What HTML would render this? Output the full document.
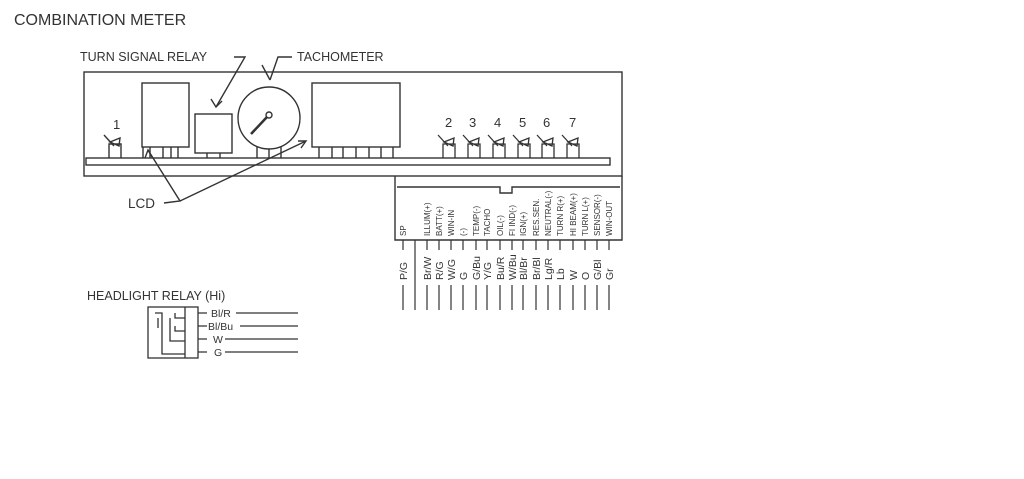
<!DOCTYPE html>
<html><head><meta charset="utf-8"><style>
html,body{margin:0;padding:0;background:#fff;}
svg{display:block;}
text{font-family:"Liberation Sans",sans-serif;fill:#333;}
</style></head><body>
<svg width="1024" height="479" viewBox="0 0 1024 479" xmlns="http://www.w3.org/2000/svg">
<g stroke="#333" stroke-width="1.4" fill="none">
<text x="14" y="25" font-size="16" stroke="none">COMBINATION METER</text>
<text x="80" y="61" font-size="12.5" stroke="none">TURN SIGNAL RELAY</text>
<text x="297" y="61" font-size="12.5" stroke="none">TACHOMETER</text>
<polyline points="234,57 245,57 216,107"/>
<polyline points="211,99 216,107 222,101"/>
<polyline points="292,57 278,57 270,80"/>
<polyline points="262,65 270,80"/>
<!-- outer box -->
<rect x="84" y="72" width="538" height="104"/>
<rect x="86" y="158" width="524" height="7"/>
<!-- LCD left -->
<rect x="142" y="83" width="47" height="64"/>
<path d="M143,147 V158 M150,147 V158 M163,147 V158 M171,147 V158 M178,147 V158"/>
<!-- relay -->
<rect x="195" y="114" width="37" height="39"/>
<path d="M207,153 V158 M220,153 V158"/>
<!-- tacho -->
<circle cx="269" cy="118" r="31"/>
<circle cx="269" cy="115" r="3"/>
<line x1="251" y1="134" x2="267" y2="117" stroke-width="2.5"/>
<path d="M257,147 V158 M269,149 V158 M281,147 V158"/>
<!-- right LCD -->
<rect x="312" y="83" width="88" height="64"/>
<path d="M319,147 V158 M332,147 V158 M343,147 V158 M356,147 V158 M369,147 V158 M381,147 V158 M393,147 V158"/>
<!-- bulb 1 -->
<path d="M109,158 V144 H121 V158 M104,135 L114,146 M110,142 L120,138 L119,146 Z"/>
<text x="113" y="129" font-size="13" stroke="none">1</text>
<!-- LCD label -->
<text x="128" y="208" font-size="13.5" stroke="none">LCD</text>
<polyline points="164,203 180,201 148,150"/>
<polyline points="180,201 306,141"/>
<polyline points="298,141 306,141 301,148"/>
<polyline points="145,158 148,150 152,157"/>
<!-- connector box -->
<path d="M395,176 V240 H622 V176"/>
<path d="M397,187 H500 V193 H512 V187 H620"/>
</g>
<g stroke="#333" stroke-width="1.3" fill="none">
<g id="b"></g>
</g>
<g stroke="#333" stroke-width="1.3" fill="none" font-size="13">
<path d="M443,158 V144 H455 V158 M438,135 L448,146 M444,142 L454,138 L453,146 Z"/>
<path d="M468,158 V144 H480 V158 M463,135 L473,146 M469,142 L479,138 L478,146 Z"/>
<path d="M493,158 V144 H505 V158 M488,135 L498,146 M494,142 L504,138 L503,146 Z"/>
<path d="M518,158 V144 H530 V158 M513,135 L523,146 M519,142 L529,138 L528,146 Z"/>
<path d="M542,158 V144 H554 V158 M537,135 L547,146 M543,142 L553,138 L552,146 Z"/>
<path d="M567,158 V144 H579 V158 M562,135 L572,146 M568,142 L578,138 L577,146 Z"/>
</g>
<g font-size="13" fill="#333">
<text x="445" y="127">2</text><text x="469" y="127">3</text><text x="494" y="127">4</text>
<text x="519" y="127">5</text><text x="543" y="127">6</text><text x="569" y="127">7</text>
</g>
<g stroke="#333" stroke-width="1.2">
<path d="M403,240V250 M415,240V250 M427,240V250 M439,240V250 M451,240V250 M463,240V250 M476,240V250 M487,240V250 M500,240V250 M512,240V250 M523,240V250 M536,240V250 M548,240V250 M560,240V250 M573,240V250 M585,240V250 M597,240V250 M609,240V250"/>
<path d="M403,285V310 M415,250V310 M427,285V310 M439,285V310 M451,285V310 M463,285V310 M476,285V310 M487,285V310 M500,285V310 M512,285V310 M523,285V310 M536,285V310 M548,285V310 M560,285V310 M573,285V310 M585,285V310 M597,285V310 M609,285V310"/>
</g>
<g font-size="8" fill="#333">
<text transform="translate(406,236) rotate(-90)">SP</text>
<text transform="translate(430,236) rotate(-90)">ILLUM(+)</text>
<text transform="translate(442,236) rotate(-90)">BATT(+)</text>
<text transform="translate(454,236) rotate(-90)">WIN-IN</text>
<text transform="translate(466,236) rotate(-90)">(-)</text>
<text transform="translate(479,236) rotate(-90)">TEMP(-)</text>
<text transform="translate(490,236) rotate(-90)">TACHO</text>
<text transform="translate(503,236) rotate(-90)">OIL(-)</text>
<text transform="translate(515,236) rotate(-90)">FI IND(-)</text>
<text transform="translate(526,236) rotate(-90)">IGN(+)</text>
<text transform="translate(539,236) rotate(-90)">RES.SEN.</text>
<text transform="translate(551,236) rotate(-90)">NEUTRAL(-)</text>
<text transform="translate(563,236) rotate(-90)">TURN R(+)</text>
<text transform="translate(576,236) rotate(-90)">HI BEAM(+)</text>
<text transform="translate(588,236) rotate(-90)">TURN L(+)</text>
<text transform="translate(600,236) rotate(-90)">SENSOR(-)</text>
<text transform="translate(612,236) rotate(-90)">WIN-OUT</text>
</g>
<g font-size="10.5" fill="#333">
<text transform="translate(407,280) rotate(-90)">P/G</text>
<text transform="translate(431,280) rotate(-90)">Br/W</text>
<text transform="translate(443,280) rotate(-90)">R/G</text>
<text transform="translate(455,280) rotate(-90)">W/G</text>
<text transform="translate(467,280) rotate(-90)">G</text>
<text transform="translate(480,280) rotate(-90)">G/Bu</text>
<text transform="translate(491,280) rotate(-90)">Y/G</text>
<text transform="translate(504,280) rotate(-90)">Bu/R</text>
<text transform="translate(516,280) rotate(-90)">W/Bu</text>
<text transform="translate(527,280) rotate(-90)">Bl/Br</text>
<text transform="translate(540,280) rotate(-90)">Br/Bl</text>
<text transform="translate(552,280) rotate(-90)">Lg/R</text>
<text transform="translate(564,280) rotate(-90)">Lb</text>
<text transform="translate(577,280) rotate(-90)">W</text>
<text transform="translate(589,280) rotate(-90)">O</text>
<text transform="translate(601,280) rotate(-90)">G/Bl</text>
<text transform="translate(613,280) rotate(-90)">Gr</text>
</g>
<!-- headlight relay -->
<text x="87" y="300" font-size="12.5">HEADLIGHT RELAY (Hi)</text>
<g stroke="#333" stroke-width="1.3" fill="none">
<rect x="148" y="307" width="50" height="51"/>
<line x1="185" y1="307" x2="185" y2="358"/>
<path d="M155,313 H162 V354 H185 M170,318 V341 H185 M158,318 V328 M175,313 V318 H185 M175,326 V331 H185"/>
<path d="M198,313 H207 M198,326 H207 M198,339 H207 M198,352 H207"/>
<path d="M236,313 H298 M240,326 H298 M225,339 H298 M225,352 H298"/>
</g>
<g font-size="10.5" fill="#333">
<text x="211" y="317">Bl/R</text>
<text x="208" y="330">Bl/Bu</text>
<text x="213" y="343">W</text>
<text x="214" y="356">G</text>
</g>
</svg>
</body></html>
